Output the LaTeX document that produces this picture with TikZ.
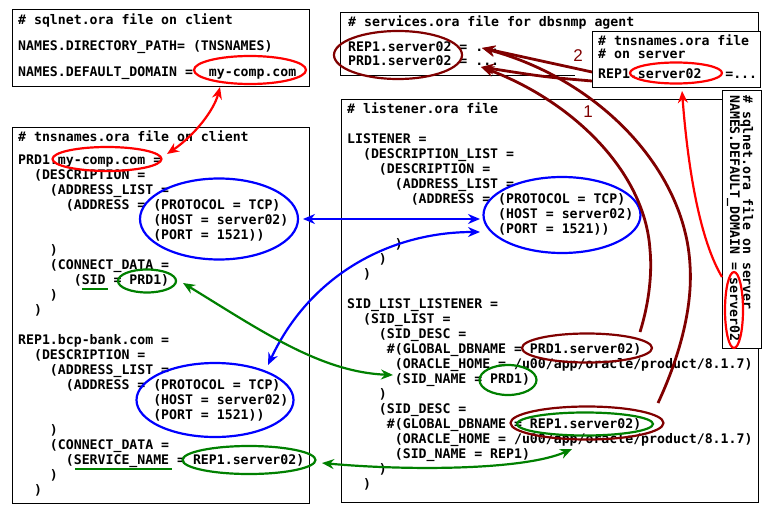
\documentclass[tikz,border=0pt]{standalone}
\usepackage{fontspec}
\newfontfamily\codefont{DejaVu Sans Mono}
\newfontfamily\labfont{Liberation Sans}
\usetikzlibrary{arrows.meta,shapes.geometric}
\definecolor{dred}{RGB}{128,0,0}
\definecolor{dgreen}{RGB}{0,128,0}
\definecolor{pblue}{RGB}{0,0,255}
\definecolor{pred}{RGB}{255,0,0}
\begin{document}
\begin{tikzpicture}[x=1pt,y=-1pt,
  box/.style={draw=black, line width=1pt, fill=white, anchor=north west, inner sep=0, outer sep=0},
  code/.style={font=\codefont\bfseries\fontsize{13.2}{15}\selectfont, anchor=base west, inner sep=0},
  ell/.style={draw=#1, ellipse, line width=2.2pt, inner sep=0},
  lab/.style={font=\labfont\fontsize{17}{19}\selectfont, text=dred, inner sep=0},
  one/.style={draw=#1, line width=2.2pt, -{Stealth[length=12pt,width=10pt]}},
  two/.style={draw=#1, line width=2.2pt, {Stealth[length=12pt,width=10pt]}-{Stealth[length=12pt,width=10pt]}},
  arc/.style={draw=dred, line width=2.8pt, -{Stealth[length=13pt,width=11pt]}},
  uline/.style={draw=dgreen, line width=2.2pt}
]
\useasboundingbox[fill=white] (0,0) rectangle (768,527);

% ---------- boxes ----------
\node[box, minimum width=297pt, minimum height=76pt] (sqlC) at (12,10) {};
\node[box, minimum width=297pt, minimum height=376pt] (tnsC) at (12,127) {};
\node[box, minimum width=418pt, minimum height=62pt] (svc) at (340,13) {};
\node[box, minimum width=417pt, minimum height=403pt] (lst) at (341,99) {};
\fill[white] (575,32) rectangle (592,87);
\node[box, minimum width=168pt, minimum height=55pt] (tnsS) at (592,32) {};
\node[box, minimum width=39pt, minimum height=258pt] (sqlS) at (722,90) {};

% ---------- sqlnet.ora client ----------
\node[code] (c1) at (18,25) {\# sqlnet.ora file on client};
\node[code] (c2) at (18,51) {NAMES.DIRECTORY\_PATH= (TNSNAMES)};
\node[code] (c3) at (18,76) {NAMES.DEFAULT\_DOMAIN =~~my-comp.com};

% ---------- tnsnames.ora client ----------
\node[code] (t01) at (18,141) {\# tnsnames.ora file on client};
\node[code] (t02) at (18,164) {PRD1.my-comp.com =};
\node[code] (t03) at (18,179) {~~(DESCRIPTION =};
\node[code] (t04) at (18,194) {~~~~(ADDRESS\_LIST =};
\node[code] (t05) at (18,209) {~~~~~~(ADDRESS = (PROTOCOL = TCP)};
\node[code] (t06) at (18,224) {~~~~~~~~~~~~~~~~~(HOST = server02)};
\node[code] (t07) at (18,239) {~~~~~~~~~~~~~~~~~(PORT = 1521))};
\node[code] (t08) at (18,254) {~~~~)};
\node[code] (t09) at (18,269) {~~~~(CONNECT\_DATA =};
\node[code] (t10) at (18,284) {~~~~~~~(SID = PRD1)};
\node[code] (t11) at (18,299) {~~~~)};
\node[code] (t12) at (18,314) {~~)};
\node[code] (t13) at (18,344) {REP1.bcp-bank.com =};
\node[code] (t14) at (18,359) {~~(DESCRIPTION =};
\node[code] (t15) at (18,374) {~~~~(ADDRESS\_LIST =};
\node[code] (t16) at (18,389) {~~~~~~(ADDRESS = (PROTOCOL = TCP)};
\node[code] (t17) at (18,404) {~~~~~~~~~~~~~~~~~(HOST = server02)};
\node[code] (t18) at (18,419) {~~~~~~~~~~~~~~~~~(PORT = 1521))};
\node[code] (t19) at (18,434) {~~~~)};
\node[code] (t20) at (18,449) {~~~~(CONNECT\_DATA =};
\node[code] (t21) at (18,464) {~~~~~~(SERVICE\_NAME = REP1.server02)};
\node[code] (t22) at (18,479) {~~~~)};
\node[code] (t23) at (18,494) {~~)};

% ---------- services.ora ----------
\node[code] (s1) at (348,27) {\# services.ora file for dbsnmp agent};
\node[code] (s2) at (348,52) {REP1.server02 = ...};
\node[code] (s3) at (348,66) {PRD1.server02 = ...};

% ---------- tnsnames.ora server ----------
\node[code] (n1) at (598,46) {\# tnsnames.ora file};
\node[code] (n2) at (598,59) {\# on server};
\node[code] (n3) at (598,78) {REP1.server02~~~=...};

% ---------- listener.ora ----------
\node[code] (l01) at (347,113) {\# listener.ora file};
\node[code] (l02) at (347,143) {LISTENER =};
\node[code] (l03) at (347,158) {~~(DESCRIPTION\_LIST =};
\node[code] (l04) at (347,173) {~~~~(DESCRIPTION =};
\node[code] (l05) at (347,188) {~~~~~~(ADDRESS\_LIST =};
\node[code] (l06) at (347,203) {~~~~~~~~(ADDRESS = (PROTOCOL = TCP)};
\node[code] (l07) at (347,218) {~~~~~~~~~~~~~~~~~~~(HOST = server02)};
\node[code] (l08) at (347,233) {~~~~~~~~~~~~~~~~~~~(PORT = 1521))};
\node[code] (l09) at (347,248) {~~~~~~)};
\node[code] (l10) at (347,263) {~~~~)};
\node[code] (l11) at (347,278) {~~)};
\node[code] (l12) at (347,308) {SID\_LIST\_LISTENER =};
\node[code] (l13) at (347,323) {~~(SID\_LIST =};
\node[code] (l14) at (347,338) {~~~~(SID\_DESC =};
\node[code] (l15) at (347,353) {~~~~~\#(GLOBAL\_DBNAME = PRD1.server02)};
\node[code] (l16) at (347,368) {~~~~~~(ORACLE\_HOME = /u00/app/oracle/product/8.1.7)};
\node[code] (l17) at (347,383) {~~~~~~(SID\_NAME = PRD1)};
\node[code] (l18) at (347,398) {~~~~)};
\node[code] (l19) at (347,413) {~~~~(SID\_DESC =};
\node[code] (l20) at (347,428) {~~~~~\#(GLOBAL\_DBNAME = REP1.server02)};
\node[code] (l21) at (347,443) {~~~~~~(ORACLE\_HOME = /u00/app/oracle/product/8.1.7)};
\node[code] (l22) at (347,458) {~~~~~~(SID\_NAME = REP1)};
\node[code] (l23) at (347,473) {~~~~)};
\node[code] (l24) at (347,488) {~~)};

% ---------- sqlnet.ora server (rotated) ----------
\node[code, rotate=-90] (q1) at (743,95) {\# sqlnet.ora file on server};
\node[code, rotate=-90] (q2) at (730,95) {NAMES.DEFAULT\_DOMAIN = server02};

% ---------- underlines ----------
\coordinate (uSidA) at (82,289);   \coordinate (uSidB) at (108,289);
\coordinate (uSvcA) at (75,469);   \coordinate (uSvcB) at (172,469);
\draw[uline] (uSidA) -- (uSidB);
\draw[uline] (uSvcA) -- (uSvcB);

% ---------- ellipses ----------
\node[ell=pred, minimum width=112pt, minimum height=28pt] (eSqlC) at (250,70) {};
\node[ell=pred, minimum width=109pt, minimum height=24pt] (eDom) at (107,159) {};
\node[ell=pblue, minimum width=158pt, minimum height=81pt] (eB1) at (219,219) {};
\node[ell=dgreen, minimum width=58pt, minimum height=23pt] (eSid) at (147,281) {};
\node[ell=pblue, minimum width=157pt, minimum height=74pt] (eB2) at (215,400) {};
\node[ell=dgreen, minimum width=133pt, minimum height=28pt] (eSvc) at (249,460) {};
\node[ell=dred, minimum width=128pt, minimum height=48pt] (eServ) at (398,55) {};
\node[ell=pred, minimum width=92pt, minimum height=21pt] (eHost) at (676,73) {};
\node[ell=pblue, minimum width=157pt, minimum height=76pt] (eLB) at (562,215) {};
\node[ell=dred, minimum width=130pt, minimum height=29pt] (ePrdG) at (587,348) {};
\node[ell=dgreen, minimum width=57pt, minimum height=30pt] (ePrdS) at (508,380) {};
\node[ell=dred, minimum width=153pt, minimum height=33pt] (eRepR) at (587,423) {};
\node[ell=dgreen, minimum width=136pt, minimum height=23pt] (eRepG) at (585,424) {};
\node[ell=pred, minimum width=18pt, minimum height=76pt] (eSrv) at (734,310) {};

% ---------- connector end points ----------
\coordinate (aDom) at (167,154);  \coordinate (aSql) at (220,87);
\coordinate (bL) at (303,219);    \coordinate (bR) at (480,219);
\coordinate (cR) at (480,232);    \coordinate (cL) at (268,365);
\coordinate (dL) at (183,283);    \coordinate (dR) at (393,375);
\coordinate (eL) at (322,463);    \coordinate (eR) at (572,449);
\coordinate (s2a) at (592,72);    \coordinate (tRep) at (482,48);
\coordinate (s2b) at (592,81);    \coordinate (tPrd) at (481,67);
\coordinate (lPrd) at (640,332);  \coordinate (lRep) at (658,403);
\coordinate (gS) at (722,277);    \coordinate (gT) at (682,91);

% ---------- connectors ----------
\draw[two=pred] (aDom) .. controls (195,135) and (214,110) .. (aSql);
\draw[two=pblue] (bL) -- (bR);
\draw[two=pblue] (cR) .. controls (390,232) and (310,275) .. (cL);
\draw[two=dgreen] (dL) .. controls (260,330) and (320,372) .. (dR);
\draw[two=dgreen] (eL) .. controls (410,471) and (525,470) .. (eR);
\draw[arc] (s2a) -- (tRep);
\draw[arc] (s2b) .. controls (545,77) .. (tPrd);
\draw[arc] (lPrd) .. controls (650,300) and (652,270) .. (650,250)
                  .. controls (645,170) and (570,100) .. (tPrd);
\draw[arc] (lRep) .. controls (678,360) and (693,310) .. (690,265)
                  .. controls (685,170) and (600,80) .. (tRep);
\draw[one=pred] (gS) .. controls (700,240) and (688,170) .. (gT);

% ---------- labels ----------
\node[lab] (num1) at (588,112) {1};
\node[lab] (num2) at (578,56) {2};
\end{tikzpicture}
\end{document}
